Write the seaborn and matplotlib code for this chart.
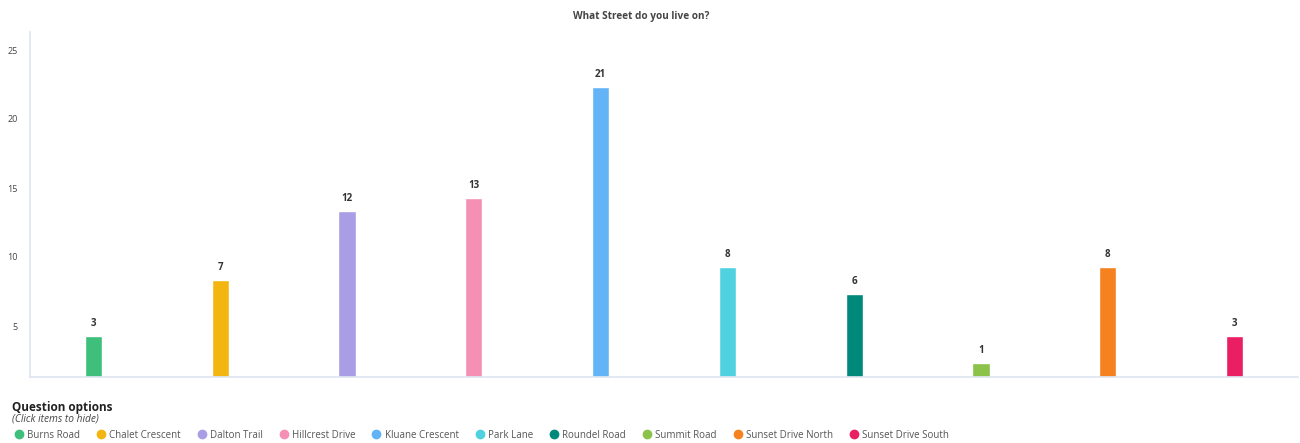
import matplotlib
matplotlib.use("Agg")
import matplotlib.pyplot as plt
import matplotlib.transforms as mtransforms
from matplotlib.lines import Line2D
import seaborn as sns
import pandas as pd

streets = ["Burns Road", "Chalet Crescent", "Dalton Trail", "Hillcrest Drive",
           "Kluane Crescent", "Park Lane", "Roundel Road", "Summit Road",
           "Sunset Drive North", "Sunset Drive South"]
counts = [3, 7, 12, 13, 21, 8, 6, 1, 8, 3]
colors = ["#3ec07c", "#f3b50f", "#a99ee6", "#f58fb3", "#63b4f7",
          "#4fd1e0", "#00897b", "#8bc34a", "#f5821f", "#e91e63"]
yticks = [5, 10, 15, 20, 25]

df = pd.DataFrame({"street": streets, "count": counts})

sns.set_style("white")
plt.rcParams["font.family"] = ["Open Sans", "DejaVu Sans"]

fig = plt.figure(figsize=(13, 4.43), dpi=100)
ax = fig.add_axes([30 / 1300, 66 / 443, 1268 / 1300, 345 / 443])

sns.barplot(data=df, x="street", y="count", hue="street", palette=colors,
            width=0.135, legend=False, ax=ax, saturation=1)

for c in ax.containers:
    ax.bar_label(c, padding=5, fontsize=7, fontweight="bold", color="#333333")

ax.set_xlim(-0.5, 9.5)
ax.set_ylim(0, 25)
ax.set_xticks([])
ax.set_yticks(yticks)
ax.set_yticklabels([str(t) for t in yticks], fontsize=6.5, color="#444444")
ax.tick_params(axis="y", length=0, pad=9)
shift = mtransforms.ScaledTranslation(0, -0.18, fig.dpi_scale_trans)
for lab in ax.get_yticklabels():
    lab.set_transform(lab.get_transform() + shift)
ax.set_xlabel("")
ax.set_ylabel("")
for s in ["top", "right"]:
    ax.spines[s].set_visible(False)
for s in ["left", "bottom"]:
    ax.spines[s].set_color("#dde5f0")
    ax.spines[s].set_linewidth(1.2)

fig.text(0.493, 1 - 17 / 443, "What Street do you live on?", ha="center", va="center",
         fontsize=7.2, fontweight="bold", color="#444444")

fig.text(12 / 1300, 1 - 407 / 443, "Question options", ha="left", va="center",
         fontsize=8.5, fontweight="bold", color="#222222")
fig.text(12 / 1300, 1 - 419 / 443, "(Click items to hide)", ha="left", va="center",
         fontsize=7.3, style="italic", color="#444444")

handles = [Line2D([], [], marker="o", linestyle="", markersize=6,
                  markerfacecolor=col, markeredgecolor=col) for col in colors]
fig.legend(handles, streets, loc="center left", bbox_to_anchor=(4 / 1300, 1 - 435 / 443),
           ncol=10, frameon=False, fontsize=7, handletextpad=0.25,
           columnspacing=1.55, handlelength=1.2, labelcolor="#555555")

fig.savefig("out.png", dpi=100)
